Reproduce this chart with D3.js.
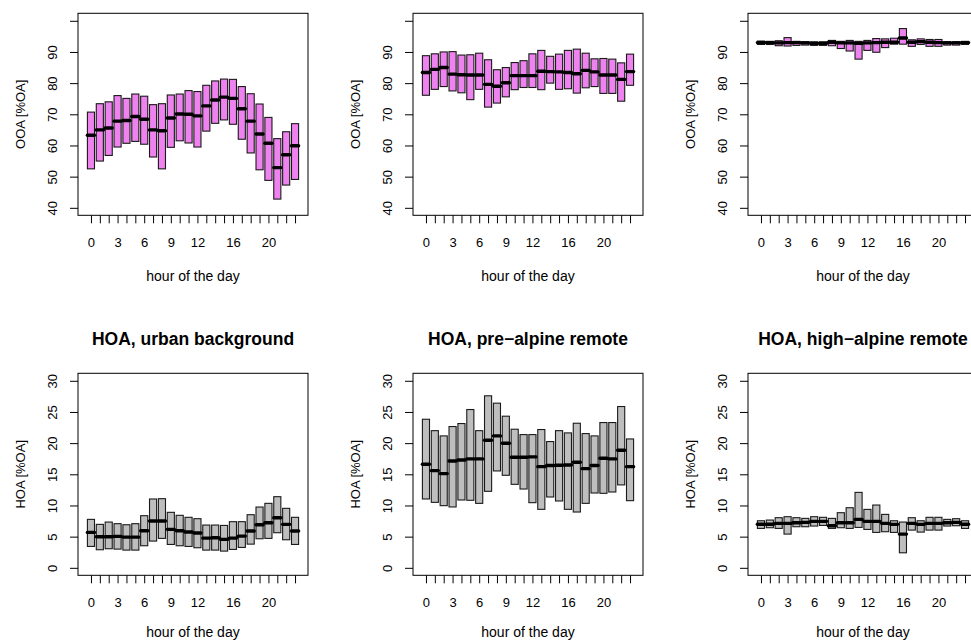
<!DOCTYPE html>
<html>
<head>
<meta charset="utf-8">
<script src="https://cdn.jsdelivr.net/npm/d3@7"></script>
<style>
  body { margin: 0; background: #fff; }
  svg { display: block; }
  text { font-family: "Liberation Sans", Arial, Helvetica, sans-serif; fill: #000; }
</style>
</head>
<body>
<div id="graph"></div>
<script>
// hours 0..23, one box per hour (lower quartile, median, upper quartile)
var hours = d3.range(24);

var ooaUrbanLow  = [52.5, 55.0, 56.8, 59.5, 60.7, 61.3, 60.4, 56.3, 52.5, 59.4, 61.5, 60.8, 59.5, 64.6, 67.1, 68.2, 66.8, 62.0, 57.6, 52.2, 48.8, 42.8, 47.3, 49.1];
var ooaUrbanMed  = [63.3, 65.0, 65.6, 67.8, 68.0, 69.3, 68.4, 65.0, 64.7, 68.8, 70.1, 70.0, 69.5, 72.7, 74.6, 75.5, 75.1, 71.8, 67.8, 63.7, 60.7, 52.9, 57.0, 59.9];
var ooaUrbanHigh = [70.7, 73.4, 74.0, 76.0, 75.1, 76.5, 75.8, 73.1, 73.4, 76.2, 76.5, 77.6, 77.3, 79.3, 80.7, 81.3, 81.2, 78.9, 76.6, 73.3, 69.0, 62.2, 64.4, 67.0];

var ooaPreLow  = [76.1, 78.0, 78.9, 77.5, 76.9, 74.7, 78.0, 72.3, 73.6, 75.6, 77.9, 78.6, 78.6, 77.9, 80.0, 78.0, 78.2, 76.8, 78.5, 78.9, 76.7, 76.7, 74.2, 79.3];
var ooaPreMed  = [83.4, 84.4, 85.0, 82.9, 82.7, 82.6, 82.6, 79.6, 79.0, 80.1, 82.4, 82.4, 82.4, 83.8, 83.7, 83.6, 83.4, 83.0, 84.1, 83.6, 82.6, 82.6, 81.2, 83.7];
var ooaPreHigh = [88.8, 89.4, 90.0, 90.1, 89.0, 89.1, 89.6, 87.5, 84.3, 85.0, 86.6, 87.2, 89.4, 90.5, 88.6, 89.3, 90.5, 90.9, 89.6, 87.8, 87.9, 87.7, 86.5, 89.3];

var ooaHighLow  = [92.4, 92.4, 92.0, 91.9, 92.1, 92.2, 92.1, 92.1, 92.0, 91.1, 90.3, 87.7, 90.5, 89.9, 91.4, 92.5, 92.5, 91.8, 92.4, 91.8, 91.8, 92.2, 92.2, 92.4];
var ooaHighMed  = [93.0, 93.0, 92.9, 93.0, 93.0, 92.9, 92.8, 92.8, 93.1, 92.9, 92.9, 92.8, 92.9, 93.0, 93.1, 93.1, 94.5, 93.1, 93.3, 93.1, 93.0, 92.9, 92.9, 93.0];
var ooaHighHigh = [93.5, 93.4, 93.6, 94.6, 93.4, 93.3, 93.2, 93.2, 93.7, 93.4, 93.7, 93.4, 93.7, 94.3, 94.2, 94.4, 97.5, 93.9, 94.2, 94.0, 94.0, 93.3, 93.3, 93.4];

var hoaUrbanLow  = [3.43, 2.90, 3.06, 3.00, 2.84, 2.84, 3.54, 4.29, 4.72, 3.75, 3.54, 3.43, 3.22, 2.84, 2.84, 2.68, 2.95, 3.27, 3.80, 4.66, 4.72, 5.63, 4.50, 3.75];
var hoaUrbanMed  = [5.68, 4.99, 4.99, 5.04, 4.93, 4.93, 5.95, 7.50, 7.50, 6.17, 5.95, 5.74, 5.58, 4.77, 4.83, 4.56, 4.77, 5.09, 5.90, 6.92, 7.24, 8.04, 6.97, 5.90];
var hoaUrbanHigh = [7.77, 6.97, 7.34, 7.08, 6.91, 7.08, 8.36, 11.04, 11.09, 8.90, 8.42, 8.10, 7.88, 6.86, 6.86, 6.80, 7.40, 7.40, 8.52, 9.75, 10.34, 11.41, 9.54, 8.10];

var hoaPreLow  = [11.04, 10.50, 9.97, 9.76, 10.88, 10.83, 10.34, 12.27, 15.54, 14.84, 13.39, 12.64, 10.45, 9.38, 11.36, 10.72, 9.38, 8.95, 10.34, 12.00, 11.95, 12.16, 13.30, 10.77];
var hoaPreMed  = [16.6, 15.59, 15.11, 17.14, 17.3, 17.47, 17.47, 20.46, 21.16, 19.99, 17.73, 17.73, 17.79, 16.23, 16.4, 16.45, 16.5, 16.93, 15.91, 16.4, 17.57, 17.47, 18.86, 16.23];
var hoaPreHigh = [23.83, 22.0, 21.16, 22.66, 23.14, 25.39, 22.0, 27.59, 26.41, 24.32, 22.23, 21.37, 21.37, 22.18, 20.25, 22.0, 21.64, 23.19, 21.53, 21.16, 23.3, 23.3, 25.87, 20.67];

var hoaHighLow  = [6.32, 6.43, 6.32, 5.41, 6.59, 6.59, 6.70, 6.80, 6.32, 6.43, 6.32, 6.48, 6.16, 5.68, 5.79, 5.68, 2.41, 6.05, 5.73, 6.05, 6.05, 6.70, 6.75, 6.32];
var hoaHighMed  = [7.00, 7.00, 7.13, 7.13, 7.24, 7.29, 7.45, 7.45, 6.75, 7.24, 7.24, 7.77, 7.45, 7.45, 7.13, 6.97, 5.41, 7.13, 6.97, 7.13, 7.13, 7.24, 7.29, 7.00];
var hoaHighHigh = [7.55, 7.66, 8.04, 8.20, 8.04, 7.93, 8.20, 8.10, 7.93, 8.84, 9.64, 12.10, 9.37, 10.07, 8.57, 7.55, 7.34, 8.04, 7.55, 8.10, 8.10, 7.77, 7.88, 7.55];

var ooaTicks = [40, 50, 60, 70, 80, 90, 100];
var ooaTickLabels = ["40", "50", "60", "70", "80", "90", ""];
var hoaTicks = [0, 5, 10, 15, 20, 25, 30];
var hoaTickLabels = ["0", "5", "10", "15", "20", "25", "30"];
var hourLabels = {0: "0", 3: "3", 6: "6", 9: "9", 12: "12", 16: "16", 20: "20"};

// top row titles lie above the picture in the reference, so only the second row has them
var panels = [
    {col: 0, row: 0, title: null, ylab: "OOA [%OA]", low: ooaUrbanLow, med: ooaUrbanMed, high: ooaUrbanHigh, ylim: [40, 100], ticks: ooaTicks, labels: ooaTickLabels, fill: "#EE82EE"},
    {col: 1, row: 0, title: null, ylab: "OOA [%OA]", low: ooaPreLow, med: ooaPreMed, high: ooaPreHigh, ylim: [40, 100], ticks: ooaTicks, labels: ooaTickLabels, fill: "#EE82EE"},
    {col: 2, row: 0, title: null, ylab: "OOA [%OA]", low: ooaHighLow, med: ooaHighMed, high: ooaHighHigh, ylim: [40, 100], ticks: ooaTicks, labels: ooaTickLabels, fill: "#EE82EE"},
    {col: 0, row: 1, title: "HOA, urban background", ylab: "HOA [%OA]", low: hoaUrbanLow, med: hoaUrbanMed, high: hoaUrbanHigh, ylim: [0, 30], ticks: hoaTicks, labels: hoaTickLabels, fill: "#BEBEBE"},
    {col: 1, row: 1, title: "HOA, pre\u2212alpine remote", ylab: "HOA [%OA]", low: hoaPreLow, med: hoaPreMed, high: hoaPreHigh, ylim: [0, 30], ticks: hoaTicks, labels: hoaTickLabels, fill: "#BEBEBE"},
    {col: 2, row: 1, title: "HOA, high\u2212alpine remote", ylab: "HOA [%OA]", low: hoaHighLow, med: hoaHighMed, high: hoaHighHigh, ylim: [0, 30], ticks: hoaTicks, labels: hoaTickLabels, fill: "#BEBEBE"}
];

var W = 971, H = 642;
var plotW = 230, plotH = 202;
var colStep = 335, rowStep = 360;
var left0 = 78, top0 = 13.3;
var xlabOffset = [66, 61.5];

var svg = d3.select("#graph").append("svg")
    .attr("width", W)
    .attr("height", H);

panels.forEach(function (p) {
    var left = left0 + p.col * colStep,
        top = top0 + p.row * rowStep;

    // R style 4% extension of the ranges
    var ext = (p.ylim[1] - p.ylim[0]) * 0.04;
    var x = d3.scaleLinear().domain([-1.46, 24.46]).range([0, plotW]);
    var y = d3.scaleLinear().domain([p.ylim[0] - ext, p.ylim[1] + ext]).range([plotH, 0]);

    var g = svg.append("g").attr("transform", "translate(" + left + "," + top + ")");

    // boxes
    hours.forEach(function (h, i) {
        g.append("rect")
            .attr("x", x(h - 0.4))
            .attr("y", y(p.high[i]))
            .attr("width", x(h + 0.4) - x(h - 0.4))
            .attr("height", y(p.low[i]) - y(p.high[i]))
            .style("fill", p.fill)
            .style("stroke", "#1a1a1a")
            .style("stroke-width", 1.1);
    });
    // medians
    hours.forEach(function (h, i) {
        g.append("line")
            .attr("x1", x(h - 0.4))
            .attr("x2", x(h + 0.4))
            .attr("y1", y(p.med[i]))
            .attr("y2", y(p.med[i]))
            .style("stroke", "#000")
            .style("stroke-width", 3.4)
            .style("stroke-linecap", "round");
    });

    // frame
    g.append("rect")
        .attr("x", 0).attr("y", 0)
        .attr("width", plotW).attr("height", plotH)
        .style("fill", "none")
        .style("stroke", "#000")
        .style("stroke-width", 1);

    // y axis
    var ya = g.append("g")
        .call(d3.axisLeft(y).tickValues(p.ticks).tickSize(8).tickSizeOuter(0)
            .tickFormat(function (d, i) { return p.labels[i]; }));
    ya.select(".domain").remove();
    ya.selectAll(".tick line").style("stroke", "#000");
    ya.selectAll(".tick text")
        .attr("transform", "rotate(-90)")
        .attr("text-anchor", "middle")
        .attr("x", 0)
        .attr("y", -21)
        .attr("dy", 0)
        .style("font-size", "13px");

    // x axis
    var xa = g.append("g")
        .attr("transform", "translate(0," + plotH + ")")
        .call(d3.axisBottom(x).tickValues(hours).tickSize(8).tickSizeOuter(0).tickPadding(14)
            .tickFormat(function (d) { return hourLabels[d] || ""; }));
    xa.select(".domain").remove();
    xa.selectAll(".tick line").style("stroke", "#000");
    xa.selectAll(".tick text").style("font-size", "13px");

    // axis titles
    g.append("text")
        .attr("x", plotW / 2)
        .attr("y", plotH + xlabOffset[p.row])
        .attr("text-anchor", "middle")
        .style("font-size", "14px")
        .text("hour of the day");

    g.append("text")
        .attr("transform", "translate(" + (25 - left0) + "," + (plotH / 2) + ") rotate(-90)")
        .attr("text-anchor", "middle")
        .style("font-size", "13px")
        .text(p.ylab);

    // main title
    if (p.title) {
        g.append("text")
            .attr("x", plotW / 2)
            .attr("y", -28.5)
            .attr("text-anchor", "middle")
            .style("font-size", "17.5px")
            .style("font-weight", "bold")
            .text(p.title);
    }
});
</script>
</body>
</html>
